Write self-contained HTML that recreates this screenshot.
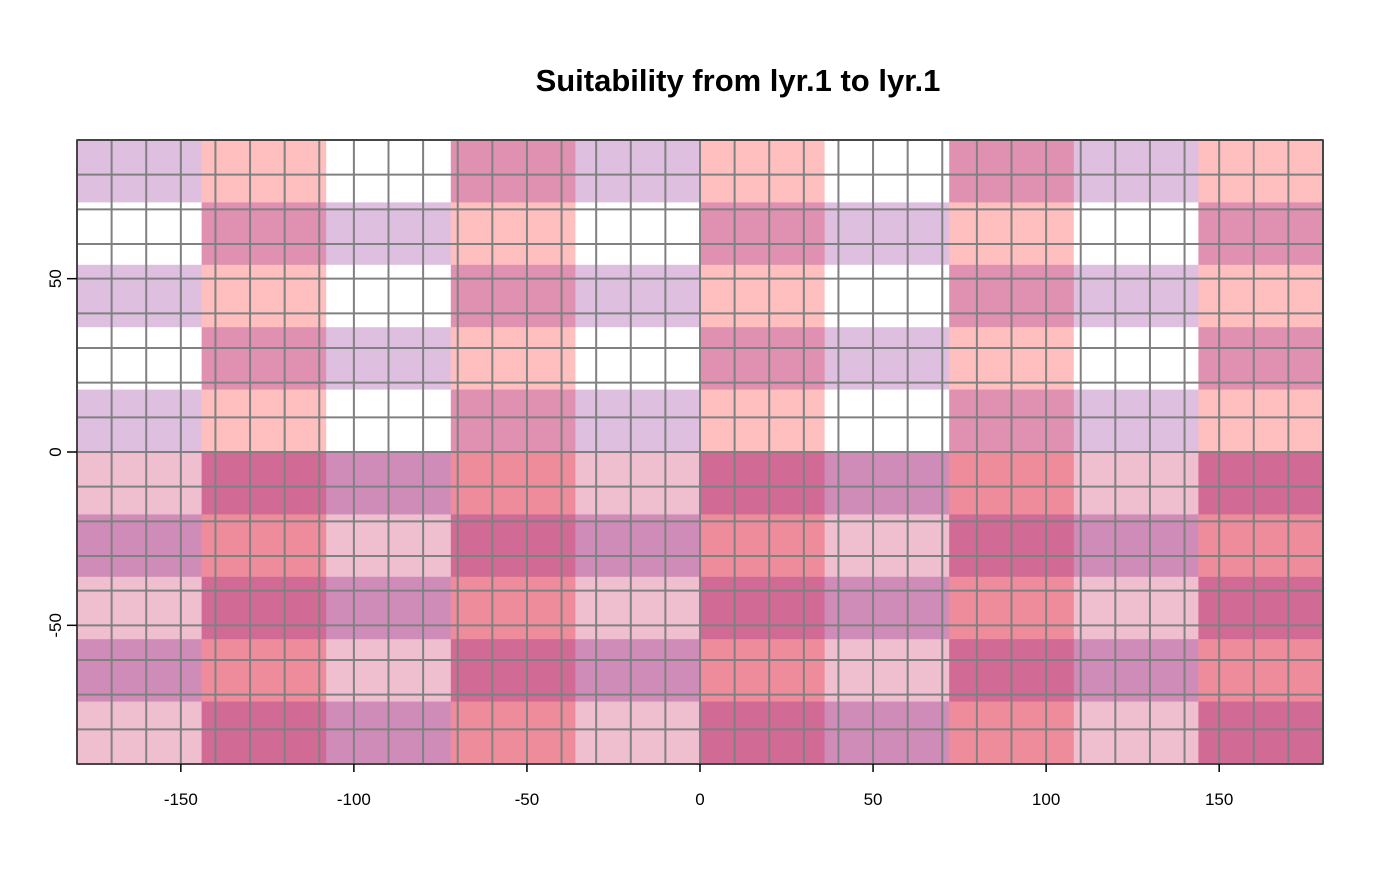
<!DOCTYPE html>
<html><head><meta charset="utf-8"><style>
body{margin:0;background:#fff;font-family:"Liberation Sans",Arial,sans-serif}
</style></head><body>
<svg id="chart" width="1400" height="866" xmlns="http://www.w3.org/2000/svg">
<text x="738" y="91" text-anchor="middle" font-size="31" font-weight="bold">Suitability from lyr.1 to lyr.1</text>
<g id="cells"></g>
<g id="grid"></g>
<g id="axes"></g>
</svg>
<script>
const palette = ["#ffffff","#dfbfdf","#ffbfbf","#e090b0","#efbfcf","#d26a96","#d08cb8","#ef8c9b"];
const rowA = [1,2,0,3,1,2,0,3,1,2];
const rowB = [0,3,1,2,0,3,1,2,0,3];
const rowC = [4,5,6,7,4,5,6,7,4,5];
const rowD = [6,7,4,5,6,7,4,5,6,7];
const blockRows = [rowA,rowB,rowA,rowB,rowA,rowC,rowD,rowC,rowD,rowC];
const xTicks = [-150,-100,-50,0,50,100,150];
const yTicks = [-50,0,50];

const NS="http://www.w3.org/2000/svg";
const X0=77,X1=1323,Y0=140,Y1=764;
const sx=v=>X0+(v+180)/360*(X1-X0);
const sy=v=>Y0+(90-v)/180*(Y1-Y0);
function mk(tag,attrs,parent){const e=document.createElementNS(NS,tag);for(const k in attrs)e.setAttribute(k,attrs[k]);parent.appendChild(e);return e;}
const cells=document.getElementById('cells');
blockRows.forEach((row,r)=>{
  row.forEach((c,ci)=>{
    const lon0=-180+ci*36, lat0=90-r*18;
    const rect=mk('rect',{x:sx(lon0),y:sy(lat0),width:sx(lon0+36)-sx(lon0)+0.5,height:sy(lat0-18)-sy(lat0)+0.5,fill:palette[c]},cells);
    
    
  });
});
const grid=document.getElementById('grid');
for(let v=-180;v<=180;v+=10){
  const l=mk('line',{x1:sx(v),x2:sx(v),y1:Y0,y2:Y1,stroke:"#808080","stroke-width":2},grid);
  
  
}
for(let v=-90;v<=90;v+=10){
  const l=mk('line',{x1:X0,x2:X1,y1:sy(v),y2:sy(v),stroke:"#808080","stroke-width":2},grid);
  
  
}
const axes=document.getElementById('axes');
const box=mk('rect',{x:X0,y:Y0,width:X1-X0,height:Y1-Y0,fill:"none",stroke:"#333","stroke-width":1.5},axes);


xTicks.forEach(v=>{
  const t=mk('line',{x1:sx(v),x2:sx(v),y1:Y1,y2:Y1+8,stroke:"#000","stroke-width":1.5},axes);
  
  
  const tx=mk('text',{x:sx(v),y:805,"text-anchor":"middle","font-size":17},axes);
  tx.textContent=v;
  
  
});
yTicks.forEach(v=>{
  const t=mk('line',{x1:X0-10,x2:X0,y1:sy(v),y2:sy(v),stroke:"#000","stroke-width":1.5},axes);
  
  
  const tx=mk('text',{x:61,y:sy(v),"text-anchor":"middle","font-size":17,transform:`rotate(-90 61 ${sy(v)})`},axes);
  tx.textContent=v;
  
  
});
</script>
</body></html>
